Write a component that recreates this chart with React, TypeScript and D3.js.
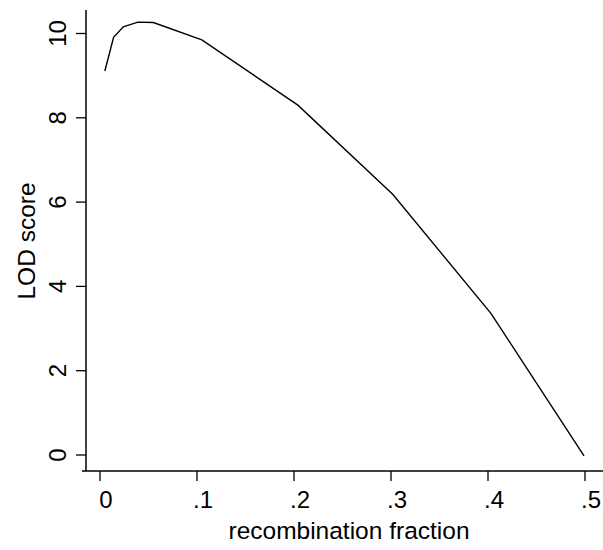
import * as d3 from "d3";

// recombination fraction (theta) and LOD score
const theta = [0.005, 0.014, 0.024, 0.039, 0.055, 0.105, 0.204, 0.302, 0.403, 0.499];
const lod = [9.11, 9.91, 10.16, 10.27, 10.26, 9.85, 8.3, 6.18, 3.36, -0.02];

const xTicks = [0, 0.1, 0.2, 0.3, 0.4, 0.5];
const xTickLabels = ["0", ".1", ".2", ".3", ".4", ".5"];
const yTicks = [0, 2, 4, 6, 8, 10];

const App = () => {
    const width = 603;
    const height = 550;
    const axisX = 86;
    const axisY = 471;
    const font = "'Liberation Sans', Arial, Helvetica, sans-serif";

    const x = d3.scaleLinear([0, 0.5], [100, 585]);
    const y = d3.scaleLinear([0, 10], [455, 33.5]);

    const line = d3.line<number>((d, i) => x(theta[i]), d => y(d));

    return (
        <svg width={width} height={height} style={{position: "absolute", left: 0, top: 0}}>
            <rect width={width} height={height} fill="white" />
            {/* axes */}
            <line x1={axisX} x2={axisX} y1={10} y2={axisY} stroke="black" strokeWidth="1.5" />
            <line x1={82} x2={width} y1={axisY} y2={axisY} stroke="black" strokeWidth="1.5" />

            {/* y ticks */}
            <g fontFamily={font} fontSize="24" fill="black">
                {yTicks.map(t => (
                    <g key={t}>
                        <line x1={axisX - 10} x2={axisX} y1={y(t)} y2={y(t)} stroke="black" strokeWidth="1.3" />
                        <text transform={`translate(66,${y(t)}) rotate(-90)`} textAnchor="middle">{t}</text>
                    </g>
                ))}
            </g>

            {/* x ticks */}
            <g fontFamily={font} fontSize="24" fill="black">
                {xTicks.map((t, i) => (
                    <g key={t}>
                        <line x1={x(t)} x2={x(t)} y1={axisY} y2={axisY + 10} stroke="black" strokeWidth="1.3" />
                        <text x={x(t) + 6} y={508} textAnchor="middle">{xTickLabels[i]}</text>
                    </g>
                ))}
            </g>

            {/* axis titles */}
            <text x={349} y={539} textAnchor="middle" fontFamily={font} fontSize="24.5">recombination fraction</text>
            <text transform="translate(35,241) rotate(-90)" textAnchor="middle" fontFamily={font} fontSize="24.5">LOD score</text>

            <path fill="none" stroke="black" strokeWidth="1.4" d={line(lod) ?? ""} />
        </svg>
    );
};

export default App;
